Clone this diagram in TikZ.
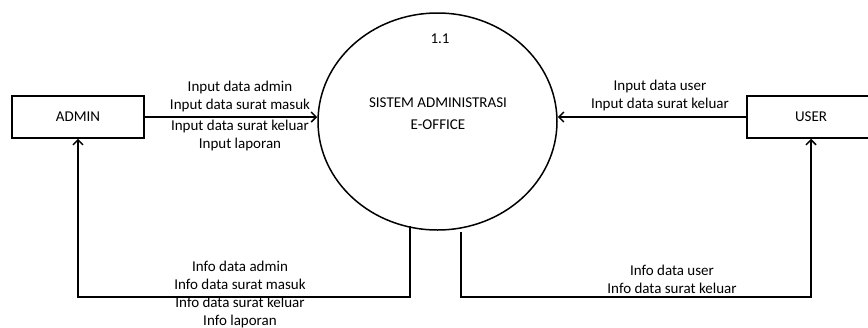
\documentclass[tikz,border=0pt]{standalone}
\usepackage{fontspec}
\setmainfont{Carlito}
\usetikzlibrary{arrows.meta,shapes.geometric}
\tikzset{>={Straight Barb[length=5pt,width=10pt,line width=1.5pt]}}
\tikzset{
  entity/.style={draw,line width=1.5pt,minimum width=132pt,minimum height=42pt},
  process/.style={draw,ellipse,line width=1.5pt,minimum width=239pt,minimum height=217pt},
  flow/.style={->,line width=1.5pt},
  lbl/.style={align=center,inner sep=1pt,font=\fontsize{15}{18}\selectfont},
}

\begin{document}
\begin{tikzpicture}[x=1pt,y=-1pt]
		\useasboundingbox (0,0) rectangle (868,327);
		\clip (0,0) rectangle (868,327);
		% external entities
		\node[entity,lbl] (admin) at (78,117) {ADMIN};
		\node[entity,lbl,minimum width=128pt] (user) at (811,117) {USER};
		% process
		\node[process] (sys) at (437.5,121.5) {};
		\node[lbl] (num) at (440,39) {1.1};
		\node[lbl] (name) at (438,114) {SISTEM ADMINISTRASI\\[4pt]E-OFFICE};

		% input flows
		\draw[flow] (admin.east) -- (sys.west |- admin.east);
		\draw[flow] (user.west) -- (sys.east |- user.west);
		\node[lbl,anchor=south] (inA) at (240,113) {Input data admin\\Input data surat masuk};
		\node[lbl,anchor=north] (inB) at (240,119) {Input data surat keluar\\Input laporan};
		\node[lbl,anchor=south] (inU) at (660,112) {Input data user\\Input data surat keluar};

		% output flows
		\coordinate (outA) at (410,226);
		\coordinate (outU) at (461,232);
		\coordinate (low) at (0,297);
		\draw[flow] (outA) -- (outA |- low) -| (admin.south);
		\draw[flow] (outU) -- (outU |- low) -| (user.south);
		\node[lbl] (infoA) at (240,294) {Info data admin\\Info data surat masuk\\Info data surat keluar\\Info laporan};
		\node[lbl,anchor=south] (infoU) at (672,295) {Info data user\\Info data surat keluar};
	\end{tikzpicture}
\end{document}
